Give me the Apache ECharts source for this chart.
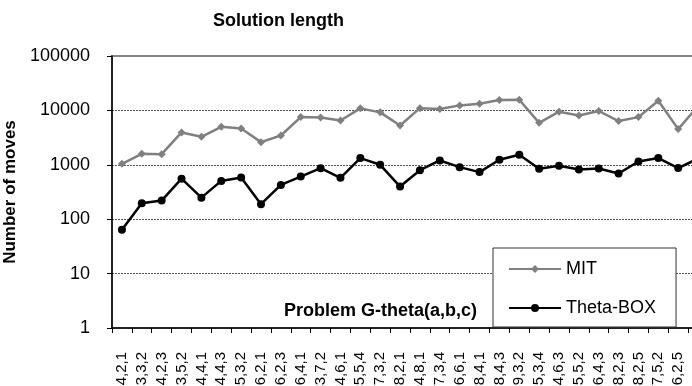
<!DOCTYPE html>
<html>
<head>
<meta charset="utf-8">
<script src="https://cdn.jsdelivr.net/npm/echarts@6/dist/echarts.min.js"></script>
<style>html,body{margin:0;padding:0;background:#fff;}#c{width:692px;height:386px;}</style>
</head>
<body>
<div id="c"></div>
<script>
var categories = ['4,2,1','3,3,2','4,2,3','3,5,2','4,4,1','4,4,3','5,3,2','6,2,1','6,2,3','6,4,1','3,7,2','4,6,1','5,5,4','7,3,2','8,2,1','4,8,1','7,3,4','6,6,1','8,4,1','8,4,3','9,3,2','5,3,4','4,6,3','5,5,2','6,4,3','8,2,3','8,2,5','7,5,2','6,2,5',''];
var mitValues = [1040,1590,1570,3930,3270,5000,4640,2610,3460,7530,7420,6510,10900,9200,5270,11000,10600,12360,13300,15500,15700,5900,9460,8090,9750,6360,7530,15100,4530,12000];
var thetaBoxValues = [64,197,220,557,249,506,582,189,427,607,866,575,1330,1000,398,796,1200,906,734,1236,1527,845,958,820,855,692,1150,1330,870,1300];
var yTickLabels = ['1','10','100','1000','10000','100000'];

var FONT = "'Liberation Sans', Arial, sans-serif";
var chart = echarts.init(document.getElementById('c'), null, {renderer: 'canvas'});
chart.setOption({
  animation: false,
  backgroundColor: '#fff',
  title: [
    {text: 'Solution length', left: 208, top: 7,
     textStyle: {fontFamily: FONT, fontSize: 18, fontWeight: 'bold', color: '#000'}},
    {text: 'Problem G-theta(a,b,c)', left: 279, top: 297,
     textStyle: {fontFamily: FONT, fontSize: 18, fontWeight: 'bold', color: '#000'}}
  ],
  legend: {
    orient: 'vertical',
    left: 493, top: 248,
    width: 183,
    padding: [12, 20, 10, 15],
    itemGap: 21,
    itemWidth: 52,
    itemHeight: 10,
    backgroundColor: '#fff',
    borderColor: '#333',
    borderWidth: 1,
    textStyle: {fontFamily: FONT, fontSize: 18, color: '#000'},
    data: ['MIT', 'Theta-BOX']
  },
  grid: {
    left: 112, top: 56, bottom: 58, right: -16,
    outerBoundsMode: 'none',
    containLabel: false,
    show: true, borderColor: '#888', borderWidth: 2, backgroundColor: 'transparent'
  },
  xAxis: {
    type: 'category',
    data: categories,
    boundaryGap: true,
    axisLine: {lineStyle: {color: '#000', width: 1.5}},
    axisTick: {show: true, interval: 0, length: 5, lineStyle: {color: '#000'}},
    axisLabel: {interval: 0, rotate: 90, margin: 24, fontFamily: FONT, fontSize: 15, color: '#000'},
    splitLine: {show: false}
  },
  yAxis: {
    type: 'log',
    logBase: 10,
    min: 1, max: 100000,
    name: 'Number of moves',
    nameLocation: 'middle',
    nameRotate: 90,
    nameGap: 80,
    nameTextStyle: {fontFamily: FONT, fontSize: 17, fontWeight: 'bold', color: '#000'},
    axisLine: {show: true, lineStyle: {color: '#000', width: 1.5}},
    axisTick: {show: true, length: 5, lineStyle: {color: '#000'}},
    axisLabel: {margin: 22, fontFamily: FONT, fontSize: 18, color: '#000',
      formatter: function (v) { var e = Math.round(Math.log10(v)); return yTickLabels[e] !== undefined ? yTickLabels[e] : ''; }},
    splitLine: {show: true, showMaxLine: false, showMinLine: false, lineStyle: {color: '#555', type: [2, 1], width: 1}}
  },
  series: [
    {name: 'MIT', type: 'line', data: mitValues, symbol: 'diamond', symbolSize: 8,
     lineStyle: {color: '#808080', width: 2.5}, itemStyle: {color: '#808080'}},
    {name: 'Theta-BOX', type: 'line', data: thetaBoxValues, symbol: 'circle', symbolSize: 8,
     lineStyle: {color: '#000', width: 2.5}, itemStyle: {color: '#000'}}
  ]
});
</script>
</body>
</html>
